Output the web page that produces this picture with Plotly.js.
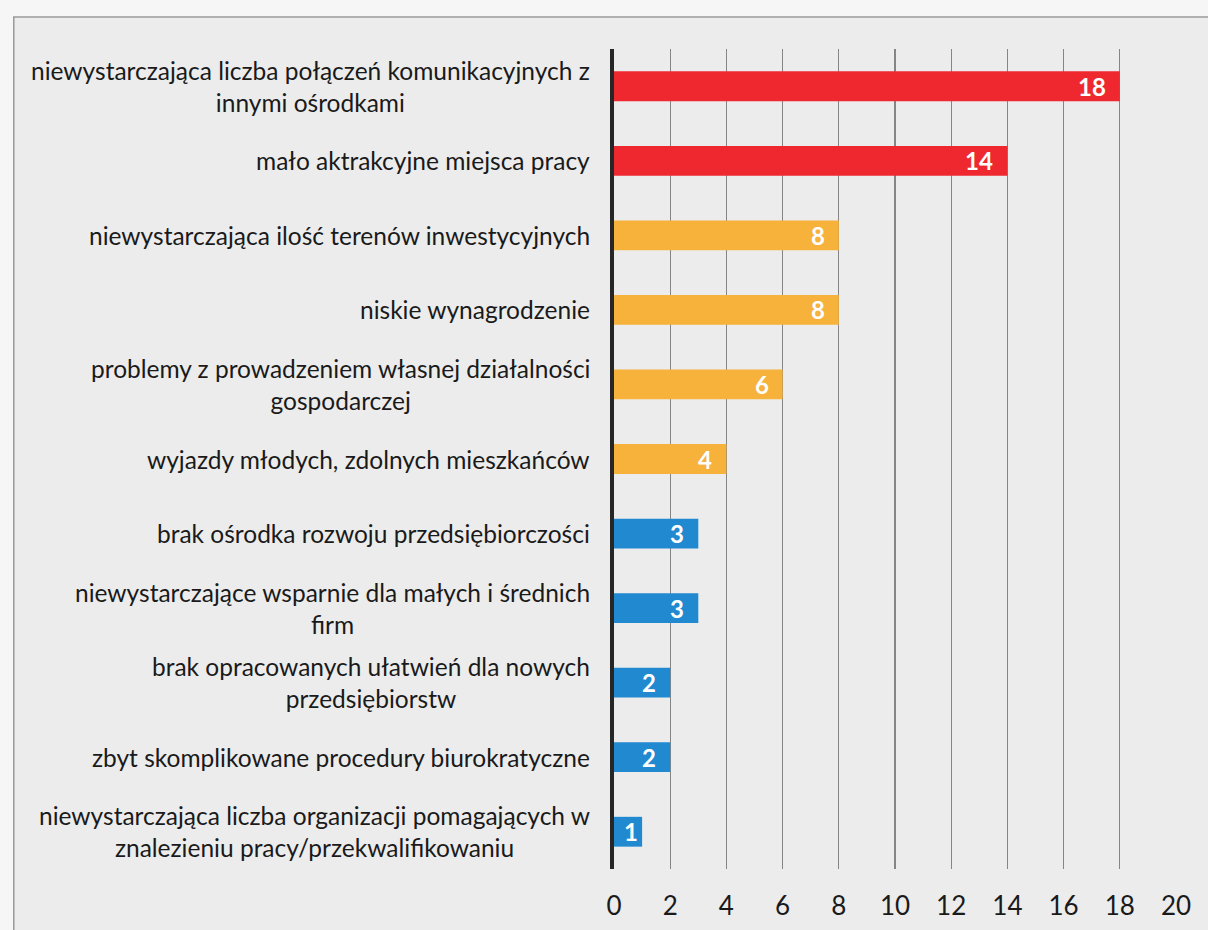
<!DOCTYPE html>
<html>
<head>
<meta charset="utf-8">
<script src="https://cdn.plot.ly/plotly-3.0.1.min.js"></script>
<style>html,body{margin:0;padding:0;background:#f5f5f5;}</style>
</head>
<body>
<div id="chart" style="width:1208px;height:930px;"></div>
<script>
const categories = [
  "niewystarczająca liczba połączeń komunikacyjnych z<br>innymi ośrodkami",
  "mało aktrakcyjne miejsca pracy",
  "niewystarczająca ilość terenów inwestycyjnych",
  "niskie wynagrodzenie",
  "problemy z prowadzeniem własnej działalności<br>gospodarczej",
  "wyjazdy młodych, zdolnych mieszkańców",
  "brak ośrodka rozwoju przedsiębiorczości",
  "niewystarczające wsparnie dla małych i średnich<br>firm",
  "brak opracowanych ułatwień dla nowych<br>przedsiębiorstw",
  "zbyt skomplikowane procedury biurokratyczne",
  "niewystarczająca liczba organizacji pomagających w<br>znalezieniu pracy/przekwalifikowaniu"
];
const values = [18, 14, 8, 8, 6, 4, 3, 3, 2, 2, 1];
const xTicks = [0, 2, 4, 6, 8, 10, 12, 14, 16, 18, 20];

const RED = "#ef2830", ORANGE = "#f6b23a", BLUE = "#2189cf";
const colorFor = v => v >= 10 ? RED : (v >= 4 ? ORANGE : BLUE);
const keys = categories.map(c => c.replace(/<br>/g, " "));

const trace = {
  type: "bar",
  orientation: "h",
  x: values,
  y: keys,
  marker: { color: values.map(colorFor), line: { width: 0 } },
  hoverinfo: "skip"
};

const annotations = [];
categories.forEach((c, i) => {
  annotations.push({
    xref: "paper", yref: "y", x: 0, y: keys[i],
    xanchor: "right", yanchor: "middle", xshift: -22,
    text: c, align: "center", showarrow: false,
    font: { family: "Lato, 'Noto Sans', sans-serif", size: 24.5, color: "#1a1a1a" }
  });
  annotations.push({
    xref: "x", yref: "y", x: values[i], y: keys[i],
    xanchor: "right", yanchor: "middle", xshift: values[i] < 2 ? -2 : -12,
    text: String(values[i]), showarrow: false,
    font: { family: "Lato, 'Noto Sans', sans-serif", size: 24, color: "#ffffff", weight: 700 }
  });
});

const layout = {
  width: 1208, height: 930,
  margin: { l: 614, r: 32, t: 49, b: 61, pad: 0 },
  paper_bgcolor: "#f6f6f6",
  plot_bgcolor: "rgba(0,0,0,0)",
  showlegend: false,
  bargap: 0.6,
  font: { family: "Lato, 'Noto Sans', sans-serif", color: "#1a1a1a" },
  xaxis: {
    range: [0, 20], tickvals: xTicks, ticktext: xTicks.map(String),
    showgrid: true, gridcolor: "#858585", gridwidth: 1.3,
    zeroline: false, showline: false, ticks: "",
    tickfont: { size: 26, color: "#1a1a1a" }, ticklabelstandoff: 19,
    fixedrange: true
  },
  yaxis: {
    type: "category", autorange: "reversed",
    showticklabels: false, showgrid: false, zeroline: false,
    showline: true, linecolor: "#262626", linewidth: 4,
    fixedrange: true
  },
  shapes: [{
    type: "rect", xref: "paper", yref: "paper", layer: "below",
    x0: -1.068, x1: 1.08, y0: -0.095, y1: 1.039,
    fillcolor: "#ececec", line: { color: "#9a9a9a", width: 1.5 }
  }],
  annotations: annotations
};

Plotly.newPlot("chart", [trace], layout, { displayModeBar: false, staticPlot: true });
</script>
</body>
</html>
